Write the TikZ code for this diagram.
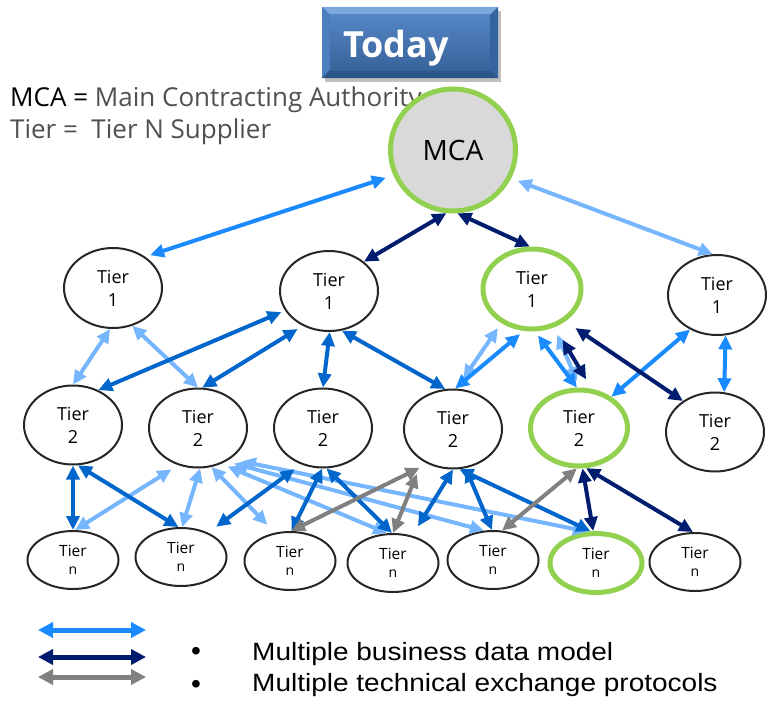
\documentclass[tikz,border=0pt]{standalone}
\usepackage{fontspec}
\usepackage{graphicx}
\usetikzlibrary{arrows.meta,shapes.geometric}
\newfontfamily\osans{Open Sans}
\newfontfamily\arialf{Liberation Sans}
\definecolor{clight}{HTML}{76B6FF}
\definecolor{cbright}{HTML}{1A8AFF}
\definecolor{cmed}{HTML}{0066CC}
\definecolor{cnavy}{HTML}{001C6E}
\definecolor{cgray}{HTML}{808080}
\definecolor{hlgreen}{HTML}{92D050}
\definecolor{ringc}{HTML}{262626}
\definecolor{mcafill}{HTML}{D9D9D9}
\definecolor{txtgray}{HTML}{505050}
\newcommand\nlab{Tier\\{\fontsize{14}{14}\selectfont n}}
\tikzset{
  tierbase/.style={ellipse, draw=ringc, line width=2pt, fill=white, inner sep=0pt, align=center,
    font=\osans\fontsize{18}{23}\selectfont},
  tone/.style={tierbase, minimum width=98pt, minimum height=80pt},
  ttwo/.style={tierbase, minimum width=98pt, minimum height=79pt},
  tn/.style={tierbase, minimum width=91pt, minimum height=58pt, font=\osans\fontsize{15.5}{17.5}\selectfont},
  hl/.style={draw=hlgreen, line width=5pt},
  con/.style={<->, line width=4pt},
  clb/.style={con, draw=clight},
  cbb/.style={con, draw=cbright},
  cmb/.style={con, draw=cmed},
  cnv/.style={con, draw=cnavy},
  cgr/.style={con, draw=cgray},
  legarrow/.style={line width=5pt, {Triangle[length=15pt,width=15pt]}-{Triangle[length=15pt,width=15pt]}},
}
\begin{document}
\begin{tikzpicture}[x=1pt,y=-1pt, >={Triangle[length=14pt,width=13pt]}]
\useasboundingbox (0,0) rectangle (767,701);

% ---- Today box ----
\fill[black, opacity=0.25] (325,11) rectangle (501,82);
\fill[fill={rgb,255:red,59;green,106;blue,163}] (322,7) rectangle (498,78);
\fill[fill={rgb,255:red,123;green,167;blue,221}] (322,7) -- (498,7) -- (490,15) -- (330,15) -- cycle;
\fill[fill={rgb,255:red,76;green,126;blue,192}] (322,7) -- (330,15) -- (330,70) -- (322,78) -- cycle;
\fill[fill={rgb,255:red,43;green,84;blue,135}] (322,78) -- (330,70) -- (490,70) -- (498,78) -- cycle;
\fill[fill={rgb,255:red,52;green,100;blue,160}] (498,7) -- (490,15) -- (490,70) -- (498,78) -- cycle;
\shade[top color={rgb,255:red,84;green,133;blue,196}, bottom color={rgb,255:red,56;green,100;blue,155}] (330,15) rectangle (490,70);
\node[anchor=base west, inner sep=0pt, text=white, font=\osans\bfseries\fontsize{36}{36}\selectfont] (today) at (343,57) {Today};

% ---- top legend ----
\node[anchor=base west, inner sep=0pt, font=\osans\fontsize{26}{26}\selectfont] (leg1) at (10,106)
  {MCA = \textcolor{txtgray}{Main Contracting Authority}};
\node[anchor=base west, inner sep=0pt, text=txtgray, font=\osans\fontsize{26}{26}\selectfont] (leg2) at (10,138)
  {Tier =\ \ Tier N Supplier};

% ---- nodes ----
\node[ellipse, draw=hlgreen, line width=5pt, fill=mcafill, inner sep=0pt, minimum width=125pt, minimum height=122pt,
  font=\osans\fontsize{28}{28}\selectfont] (MCA) at (453,150) {MCA};

\node[tone] (T1a) at (113,288) {Tier\\1};
\node[tone] (T1b) at (329,291) {Tier\\1};
\node[tone,hl] (T1c) at (532,289) {Tier\\1};
\node[tone] (T1d) at (717,295) {Tier\\1};

\node[ttwo] (T2a) at (73,425) {Tier\\2};
\node[ttwo] (T2b) at (198,428) {Tier\\2};
\node[ttwo] (T2c) at (323,428) {Tier\\2};
\node[ttwo] (T2d) at (453,429) {Tier\\2};
\node[ttwo,hl,minimum width=97pt,minimum height=76pt] (T2e) at (579,428) {Tier\\2};
\node[ttwo] (T2f) at (715,432) {Tier\\2};

\node[tn] (Na) at (73,560) {\nlab};
\node[tn] (Nb) at (181,557) {\nlab};
\node[tn] (Nc) at (290,561) {\nlab};
\node[tn] (Nd) at (393,563) {\nlab};
\node[tn] (Ne) at (493,560) {\nlab};
\node[tn,hl,minimum width=92pt,minimum height=59pt] (Nf) at (596,563) {\nlab};
\node[tn] (Ng) at (695,562) {\nlab};

% ---- connectors: light blue ----
\draw[clb, shorten <=7pt] (MCA.334) -- (T1d.96);
\draw[clb] (T1a.266) -- (T2a.90);
\draw[clb] (T1a.297) -- (T2b.90);
\draw[clb, shorten <=12pt, shorten >=6pt] (T2d.85) -- (T1c.228);
\draw[clb, shorten <=8pt, shorten >=7pt] (T1c.300) -- (T2e.89);
\draw[clb, shorten >=8pt] (Na.86) -- (T2b.242);
\draw[clb] (T2b.273) -- (Nb.88);
\draw[clb, shorten >=11pt] (T2b.289) -- (Nc.118);
\draw[clb, shorten <=7pt] (T2b.303) -- (Nd.101);
\draw[clb, shorten <=8pt] (T2b.310) -- (Ne.107);
\draw[clb, shorten <=12pt] (T2b.316) -- (Nf.106);

% ---- medium blue ----
\draw[cmb, shorten >=4pt] (T2a.54) -- (T1b.204);
\draw[cmb, shorten >=6pt] (T2b.84) -- (T1b.233);
\draw[cmb] (T1b.271) -- (T2c.90);
\draw[cmb] (T1b.288) -- (T2d.101);
\draw[cmb] (T2a.270) -- (Na.90);
\draw[cmb] (T2a.277) -- (Nb.95);
\draw[cmb, shorten <=10pt, shorten >=8pt] (Nb.42) -- (T2c.239);
\draw[cmb] (T2c.269) -- (Nc.87);
\draw[cmb] (T2c.275) -- (Nd.92);
\draw[cmb, shorten <=11pt] (Nd.55) -- (T2d.270);
\draw[cmb] (T2d.288) -- (Ne.92);
\draw[cmb] (T2d.279) -- (Nf.100);

% ---- bright blue ----
\draw[cbb, shorten <=8pt, shorten >=5pt] (MCA.203) -- (T1a.44);
\draw[cbb, shorten >=5pt] (T2d.87) -- (T1c.259);
\draw[cbb, shorten <=5pt] (T1c.274) -- (T2e.93);
\draw[cbb] (T1d.232) -- (T2e.44);
\draw[cbb] (T1d.282) -- (T2f.77);

% ---- gray ----
\draw[cgr, shorten >=9pt] (Nc.88) -- (T2d.234);
\draw[cgr, shorten <=14pt] (T2d.226) -- (Nd.90);
\draw[cgr] (Ne.73) -- (T2e.267);

% ---- navy ----
\draw[cnv] (MCA.264) -- (T1b.40);
\draw[cnv] (MCA.274) -- (T1c.93);
\draw[cnv, shorten <=15pt, shorten >=11pt] (T1c.301) -- (T2e.72);
\draw[cnv, shorten <=12pt] (T1c.316) -- (T2f.136);
\draw[cnv] (T2e.275) -- (Nf.95);
\draw[cnv] (T2e.280) -- (Ng.94);

% ---- bottom legend ----
\coordinate (la1) at (38,630); \coordinate (lb1) at (146,630);
\coordinate (la2) at (38,657); \coordinate (lb2) at (146,657);
\coordinate (la3) at (38,677); \coordinate (lb3) at (146,677);
\draw[legarrow, draw=cbright] (la1) -- (lb1);
\draw[legarrow, draw=cnavy] (la2) -- (lb2);
\draw[legarrow, draw=cgray] (la3) -- (lb3);
\node[anchor=base, inner sep=0pt, font=\arialf\fontsize{28}{28}\selectfont] (bu1) at (196,660) {•};
\node[anchor=base, inner sep=0pt, font=\arialf\fontsize{28}{28}\selectfont] (bu2) at (196,693) {•};
\node[anchor=base west, inner sep=0pt, font=\arialf\fontsize{25}{25}\selectfont] (bt1) at (252,660)
  {\scalebox{1.12}[1]{Multiple business data model}};
\node[anchor=base west, inner sep=0pt, font=\arialf\fontsize{25}{25}\selectfont] (bt2) at (252,691)
  {\scalebox{1.12}[1]{Multiple technical exchange protocols}};
\end{tikzpicture}
\end{document}
